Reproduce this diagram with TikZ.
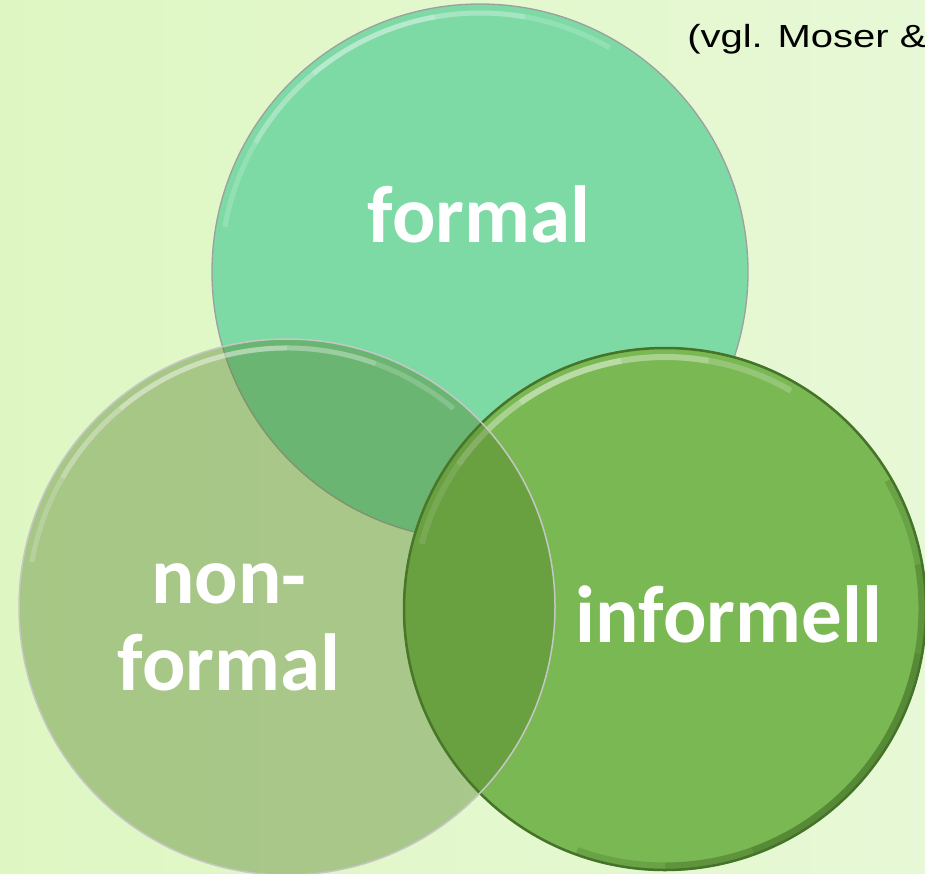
\documentclass[tikz,border=0pt]{standalone}
\usepackage{fontspec}
\newfontfamily\labelfont{Carlito}
\newfontfamily\citefont{Liberation Sans}
\definecolor{bgleft}{RGB}{222,247,194}
\definecolor{bgmid}{RGB}{245,252,240}
\definecolor{bgright}{RGB}{231,248,214}
\definecolor{formalgreen}{RGB}{125,218,165}
\definecolor{informellgreen}{RGB}{122,184,83}
\definecolor{informelledge}{RGB}{70,115,42}
\definecolor{nonformalgreen}{RGB}{79,125,37}

\begin{document}
\begin{tikzpicture}[x=1pt,y=-1pt]
\tikzstyle{every node}=[inner sep=0]
\tikzstyle{lbl}=[text=white,font=\labelfont\bfseries\fontsize{81}{87}\selectfont,align=center]
\tikzstyle{shine}=[white,line width=5,opacity=0.18]

\clip (0,0) rectangle (925,874);
\shade[left color=bgleft,middle color=bgmid,right color=bgright] (0,0) rectangle (925,874);

\coordinate (f) at (480,272);
\coordinate (n) at (287,607);
\coordinate (i) at (665,609);

% formal
\fill[formalgreen] (f) circle[radius=268];
\foreach \w in {0,20,40}
  \draw[shine] (f) ++(190+\w:259) arc[start angle=190+\w,end angle=300-\w,radius=259];
\draw[gray!75,line width=1.3] (f) circle[radius=268];

% informell
\fill[informellgreen] (i) circle[radius=262];
\foreach \w in {0,20,40}
  \draw[shine,line width=6,opacity=0.2] (i) ++(195+\w:252) arc[start angle=195+\w,end angle=300-\w,radius=252];
\foreach \w in {0,20,40}
  \draw[informelledge,line width=7,opacity=0.3] (i) ++(-30+\w:257) arc[start angle=-30+\w,end angle=110-\w,radius=257];
\draw[informelledge,line width=2.5] (i) circle[radius=261];

% non-formal
\fill[nonformalgreen,opacity=0.39] (n) circle[radius=268];
\foreach \w in {0,20,40}
  \draw[shine] (n) ++(190+\w:259) arc[start angle=190+\w,end angle=310-\w,radius=259];
\draw[gray!45,line width=1.5] (n) circle[radius=268];

% labels
\node[lbl,anchor=base] (formal) at (479,243) {formal};
\node[lbl,anchor=base] (informell) at (729,642) {informell};
\node[lbl,anchor=base] (nonformal) at (229,690) {non-\\formal};

\node[anchor=base west,font=\citefont\fontsize{32}{36}\selectfont,xscale=1.25] (cite) at (687,48) {(vgl. Moser \&};
\end{tikzpicture}
\end{document}
